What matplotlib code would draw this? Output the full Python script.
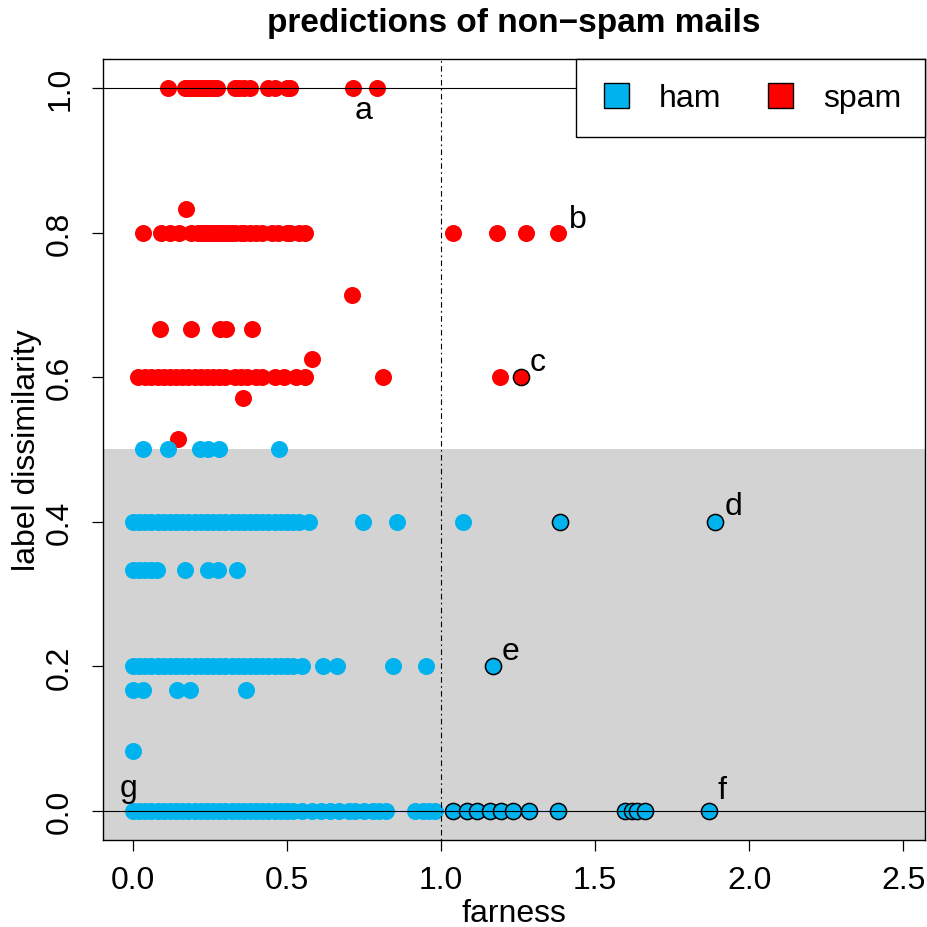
import numpy as np
import matplotlib
matplotlib.use("Agg")
import matplotlib.pyplot as plt
from matplotlib.lines import Line2D
from matplotlib.patches import Rectangle

plt.rcParams['font.family'] = ['Liberation Sans', 'DejaVu Sans']

# spam mails: (farness values, label dissimilarity)
spam_rows = {
    1.0: [0.114, 0.17, 0.18, 0.19, 0.2, 0.21, 0.22, 0.23, 0.24, 0.25, 0.26, 0.273,
          0.33, 0.345, 0.36, 0.38, 0.44, 0.46, 0.5, 0.51, 0.714, 0.792],
    0.8: [0.034, 0.09, 0.12, 0.15, 0.19, 0.21, 0.22, 0.23, 0.24, 0.25, 0.26, 0.27,
          0.28, 0.29, 0.30, 0.31, 0.32, 0.33, 0.35, 0.36, 0.38, 0.40, 0.42, 0.45,
          0.47, 0.50, 0.51, 0.54, 0.56, 1.039, 1.18, 1.276, 1.38],
    0.833: [0.172],
    0.714: [0.711],
    0.667: [0.088, 0.188, 0.282, 0.302, 0.386],
    0.625: [0.581],
    0.6: [0.017, 0.04, 0.06, 0.08, 0.1, 0.12, 0.14, 0.16, 0.18, 0.2, 0.22, 0.24,
          0.26, 0.28, 0.3, 0.33, 0.35, 0.37, 0.4, 0.42, 0.46, 0.49, 0.53, 0.56,
          0.812, 1.19],
    0.571: [0.357],
    0.514: [0.146],
}
spam_marked_x = [1.26]
spam_marked_y = [0.6]

# ham mails
ham_rows = {
    0.5: [0.033, 0.114, 0.218, 0.244, 0.279, 0.474],
    0.4: [0.0, 0.02, 0.04, 0.06, 0.08, 0.1, 0.12, 0.14, 0.16, 0.18, 0.2, 0.22,
          0.24, 0.26, 0.28, 0.3, 0.32, 0.34, 0.36, 0.38, 0.4, 0.42, 0.44, 0.46,
          0.48, 0.5, 0.52, 0.54, 0.57, 0.747, 0.857, 1.071],
    0.333: [0.0, 0.02, 0.04, 0.06, 0.078, 0.169, 0.244, 0.276, 0.337],
    0.2: [0.0, 0.02, 0.04, 0.06, 0.08, 0.1, 0.12, 0.14, 0.16, 0.18, 0.2, 0.22,
          0.24, 0.26, 0.28, 0.3, 0.32, 0.34, 0.36, 0.38, 0.4, 0.42, 0.44, 0.46,
          0.48, 0.5, 0.52, 0.55, 0.617, 0.662, 0.844, 0.951],
    0.167: [0.0, 0.033, 0.143, 0.185, 0.367],
    0.083: [0.0],
    0.0: [0.0, 0.02, 0.04, 0.06, 0.08, 0.1, 0.12, 0.14, 0.16, 0.18, 0.2, 0.22,
          0.24, 0.26, 0.28, 0.3, 0.32, 0.34, 0.36, 0.38, 0.4, 0.42, 0.44, 0.46,
          0.48, 0.5, 0.52, 0.55, 0.58, 0.61, 0.64, 0.67, 0.7, 0.72, 0.75, 0.78,
          0.8, 0.82, 0.915, 0.94, 0.96, 0.98],
}
ham_marked_x = [1.385, 1.89, 1.17, 1.039, 1.084, 1.117, 1.159, 1.195, 1.234,
                1.286, 1.38, 1.597, 1.62, 1.636, 1.662, 1.87]
ham_marked_y = [0.4, 0.4, 0.2, 0.0, 0.0, 0.0, 0.0, 0.0, 0.0,
                0.0, 0.0, 0.0, 0.0, 0.0, 0.0, 0.0]

labels = ['a', 'b', 'c', 'd', 'e', 'f', 'g']
label_x = [0.747, 1.445, 1.312, 1.948, 1.224, 1.912, -0.013]
label_y = [0.970, 0.818, 0.621, 0.422, 0.221, 0.029, 0.032]

ham_col = '#00B2EE'
spam_col = '#FF0000'

fig = plt.figure(figsize=(9.27, 9.28), dpi=100)
ax = fig.add_axes([0.1111, 0.0938, 0.8867, 0.8416])
ax.set_xlim(-0.097, 2.57)
ax.set_ylim(-0.04, 1.04)

ax.add_patch(Rectangle((-1, -1), 5, 1.5, facecolor='#D3D3D3', edgecolor='none', zorder=0))

for yv, xs in spam_rows.items():
    ax.scatter(xs, [yv] * len(xs), s=150, c=spam_col, linewidths=0, zorder=2)
for yv, xs in ham_rows.items():
    ax.scatter(xs, [yv] * len(xs), s=150, c=ham_col, linewidths=0, zorder=2)
ax.scatter(spam_marked_x, spam_marked_y, s=135, c=spam_col, edgecolors='black', linewidths=1.1, zorder=3)
ax.scatter(ham_marked_x, ham_marked_y, s=135, c=ham_col, edgecolors='black', linewidths=1.1, zorder=3)

ax.axhline(0, color='black', lw=0.8, zorder=4)
ax.axhline(1, color='black', lw=0.8, zorder=4)
ax.axvline(1, color='black', lw=0.8, linestyle=(0, (1.5, 3, 5, 3)), zorder=4)

for t, lx, ly in zip(labels, label_x, label_y):
    ax.text(lx, ly, t, fontsize=23, ha='center', va='center', zorder=5)

ax.set_xticks([0, 0.5, 1.0, 1.5, 2.0, 2.5])
ax.set_xticklabels(['0.0', '0.5', '1.0', '1.5', '2.0', '2.5'])
ax.set_yticks([0, 0.2, 0.4, 0.6, 0.8, 1.0])
ax.set_yticklabels(['0.0', '0.2', '0.4', '0.6', '0.8', '1.0'], rotation=90, va='center')
ax.tick_params(axis='both', direction='out', length=8, width=0.9, labelsize=23)
ax.tick_params(axis='x', pad=10)
ax.tick_params(axis='y', pad=12)
for sp in ax.spines.values():
    sp.set_linewidth(1.0)

ax.set_xlabel('farness', fontsize=23, labelpad=2)
ax.set_ylabel('label dissimilarity', fontsize=23, labelpad=2)
ax.set_title('predictions of non\u2212spam mails', fontsize=24, fontweight='bold', pad=20)

handles = [Line2D([], [], marker='s', linestyle='none', markersize=18, markerfacecolor=ham_col,
                  markeredgecolor='black', markeredgewidth=1.0),
           Line2D([], [], marker='s', linestyle='none', markersize=18, markerfacecolor=spam_col,
                  markeredgecolor='black', markeredgewidth=1.0)]
leg = ax.legend(handles, ['ham', 'spam'], ncol=2, loc='upper right', bbox_to_anchor=(1, 1),
                borderaxespad=0, fontsize=23, frameon=True, fancybox=False,
                handlelength=1.0, handletextpad=0.83, columnspacing=1.36, borderpad=0.75)
leg.get_frame().set_edgecolor('black')
leg.get_frame().set_linewidth(1.0)
leg.get_frame().set_alpha(1)
leg.set_zorder(6)

fig.savefig('out.png', dpi=100)
